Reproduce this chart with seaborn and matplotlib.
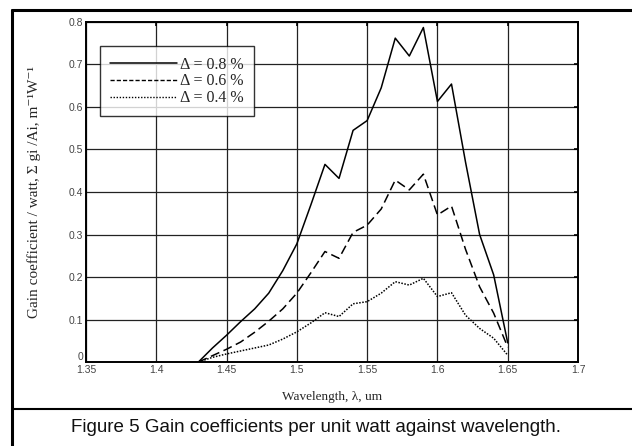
import numpy as np
import pandas as pd
import seaborn as sns
import matplotlib.pyplot as plt
import matplotlib.transforms as mtransforms
from matplotlib.lines import Line2D

# wavelength grid (um) and gain curves
wavelength = [1.43, 1.44, 1.45, 1.46, 1.47, 1.48, 1.49, 1.50, 1.51, 1.52, 1.53, 1.54,
              1.55, 1.56, 1.57, 1.58, 1.59, 1.60, 1.61, 1.62, 1.63, 1.64, 1.65]
gain_08 = [0.0, 0.033, 0.063, 0.095, 0.125, 0.162, 0.215, 0.278, 0.37, 0.465, 0.432, 0.545,
           0.568, 0.645, 0.762, 0.72, 0.787, 0.613, 0.654, 0.47, 0.30, 0.205, 0.045]
gain_06 = [0.0, 0.015, 0.03, 0.047, 0.07, 0.096, 0.125, 0.162, 0.21, 0.26, 0.244, 0.305,
           0.322, 0.36, 0.428, 0.405, 0.442, 0.346, 0.367, 0.265, 0.177, 0.115, 0.035]
gain_04 = [0.0, 0.011, 0.019, 0.026, 0.033, 0.04, 0.054, 0.071, 0.092, 0.116, 0.107, 0.137,
           0.142, 0.162, 0.189, 0.181, 0.197, 0.154, 0.163, 0.11, 0.079, 0.056, 0.016]
labels = ["\u0394 = 0.8 %", "\u0394 = 0.6 %", "\u0394 = 0.4 %"]

x_ticks = [1.35, 1.4, 1.45, 1.5, 1.55, 1.6, 1.65, 1.7]
x_ticklabels = ["1.35", "1.4", "1.45", "1.5", "1.55", "1.6", "1.65", "1.7"]
y_ticks = [0, 0.1, 0.2, 0.3, 0.4, 0.5, 0.6, 0.7, 0.8]
y_ticklabels = ["0", "0.1", "0.2", "0.3", "0.4", "0.5", "0.6", "0.7", "0.8"]

df = pd.concat([
    pd.DataFrame({"wl": wavelength, "gain": g, "series": lab})
    for g, lab in zip([gain_08, gain_06, gain_04], labels)
])

sns.set_style("white")
plt.rcParams["font.family"] = ["Liberation Sans", "DejaVu Sans"]

fig = plt.figure(figsize=(6.32, 4.46), dpi=100)
ax = fig.add_axes([0.136, 0.1883, 0.7786, 0.7624])

sns.lineplot(data=df, x="wl", y="gain", style="series", style_order=labels,
             dashes={labels[0]: "", labels[1]: (6, 3), labels[2]: (1, 1)},
             color="black", linewidth=1.1, ax=ax, legend=False)

ax.set_xlim(1.35, 1.7)
ax.set_ylim(0, 0.8)
ax.set_xticks(x_ticks)
ax.set_xticklabels(x_ticklabels)
ax.set_yticks(y_ticks)
ax.set_yticklabels(y_ticklabels)
ax.grid(True, color="#222222", linewidth=0.9)
ax.tick_params(direction="in", length=3, width=1.2, top=True, right=True,
               labelsize=7.5, colors="black", labelcolor="#444444", pad=2)
for s in ax.spines.values():
    s.set_visible(True)
    s.set_color("black")
    s.set_linewidth(1.4)

# lift the "0" label a little so it sits above "1.35" as in the original
zero = ax.get_yticklabels()[0]
zero.set_transform(zero.get_transform() + mtransforms.ScaledTranslation(0, 4 / 72, fig.dpi_scale_trans))

serif = ["Liberation Serif", "DejaVu Serif"]
ax.set_xlabel("Wavelength, \u03bb, um", family=serif, fontsize=9.5, labelpad=12)
ax.set_ylabel("Gain coefficient / watt, \u03a3 gi /Ai, m\u207b\u00b9W\u207b\u00b9", family=serif,
              fontsize=11, labelpad=20)

handles = [Line2D([], [], color="black", lw=1.1),
           Line2D([], [], color="black", lw=1.0, dashes=(3, 1.5)),
           Line2D([], [], color="black", lw=1.0, dashes=(1, 1.2))]
leg = ax.legend(handles, labels, loc="upper left", bbox_to_anchor=(0.028, 0.929),
                borderaxespad=0, fancybox=False, frameon=True, handlelength=4.2,
                handletextpad=0.2, labelspacing=0.05, borderpad=0.65,
                prop={"family": serif, "size": 11.5})
leg.get_frame().set_edgecolor("black")
leg.get_frame().set_linewidth(1.0)

# outer frame of the figure box
fig.add_artist(Line2D([12 / 632, 1], [1 - 10 / 446] * 2, color="black", lw=2.2))
fig.add_artist(Line2D([12 / 632] * 2, [0, 1 - 10 / 446], color="black", lw=2.2))
fig.add_artist(Line2D([12 / 632, 1], [1 - 409 / 446] * 2, color="black", lw=1.5))

fig.text(0.5, 1 - 427 / 446, "Figure 5 Gain coefficients per unit watt against wavelength.",
         ha="center", va="center", fontsize=13.5, color="#111111")

fig.savefig("out.png", dpi=100)
